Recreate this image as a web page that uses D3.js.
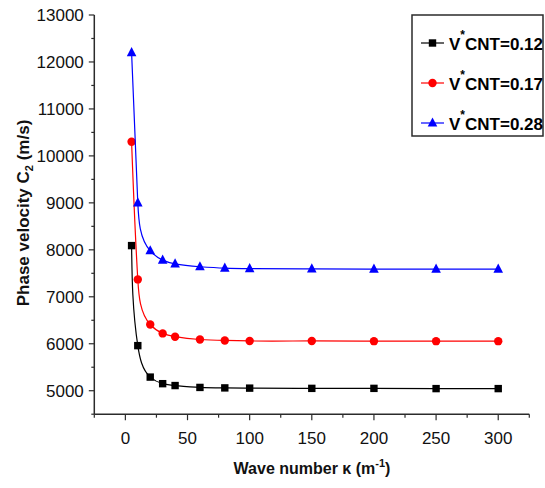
<!DOCTYPE html>
<html>
<head>
<meta charset="utf-8">
<script src="https://cdn.jsdelivr.net/npm/d3@7"></script>
<style>
  html, body { margin: 0; padding: 0; background: #fff; }
  svg { display: block; font-family: "Liberation Sans", Arial, sans-serif; }
</style>
</head>
<body>
<svg id="chart" width="545" height="488"></svg>
<script>
// Wave numbers (m^-1) sampled for each CNT volume fraction
const waveNumbers = [5, 10, 20, 30, 40, 60, 80, 100, 150, 200, 250, 300];

// Phase velocity C2 (m/s) for each V*CNT value
const velocity012 = [8090, 5960, 5290, 5150, 5110, 5070, 5060, 5055, 5050, 5050, 5045, 5045];
const velocity017 = [10300, 7370, 6410, 6220, 6150, 6090, 6070, 6060, 6060, 6055, 6055, 6055];
const velocity028 = [12200, 9000, 7980, 7780, 7700, 7640, 7610, 7600, 7595, 7590, 7590, 7590];

const seriesLabels = ["0.12", "0.17", "0.28"];
const seriesColors = ["#000000", "#ff0000", "#0000ff"];
const seriesShapes = ["square", "circle", "triangle"];

const xTickValues = [0, 50, 100, 150, 200, 250, 300];
const yTickValues = [5000, 6000, 7000, 8000, 9000, 10000, 11000, 12000, 13000];

const svg = d3.select("#chart");
const axisColor = "#2b2b2b";

const x = d3.scaleLinear().domain([-25, 325]).range([94.3, 529.3]);
const y = d3.scaleLinear().domain([4500, 13000]).range([414.2, 15]);

// Solve natural cubic spline derivatives of values v over knots t
function splineSlopes(t, v) {
  const n = t.length;
  const h = d3.range(n - 1).map(i => t[i + 1] - t[i]);
  const a = new Array(n).fill(0), b = new Array(n).fill(1), c = new Array(n).fill(0), r = new Array(n).fill(0);
  for (let i = 1; i < n - 1; i++) {
    a[i] = h[i - 1]; b[i] = 2 * (h[i - 1] + h[i]); c[i] = h[i];
    r[i] = 6 * ((v[i + 1] - v[i]) / h[i] - (v[i] - v[i - 1]) / h[i - 1]);
  }
  for (let i = 1; i < n; i++) {
    const m = a[i] / b[i - 1];
    b[i] -= m * c[i - 1]; r[i] -= m * r[i - 1];
  }
  const M = new Array(n).fill(0);
  M[n - 1] = r[n - 1] / b[n - 1];
  for (let i = n - 2; i >= 0; i--) M[i] = (r[i] - c[i] * M[i + 1]) / b[i];
  const d0 = [], d1 = [];
  for (let i = 0; i < n - 1; i++) {
    const s = (v[i + 1] - v[i]) / h[i];
    d0.push(s - h[i] * (2 * M[i] + M[i + 1]) / 6);
    d1.push(s + h[i] * (M[i] + 2 * M[i + 1]) / 6);
  }
  return { h, d0, d1 };
}

// Parametric natural spline through the points, chord-length knots
function curveChordSpline(context) {
  let xs, ys;
  return {
    areaStart() {}, areaEnd() {},
    lineStart() { xs = []; ys = []; },
    point(px, py) { xs.push(+px); ys.push(+py); },
    lineEnd() {
      const n = xs.length;
      if (!n) return;
      context.moveTo(xs[0], ys[0]);
      if (n < 3) { if (n === 2) context.lineTo(xs[1], ys[1]); return; }
      const t = [0];
      for (let i = 1; i < n; i++) t.push(t[i - 1] + Math.hypot(xs[i] - xs[i - 1], ys[i] - ys[i - 1]));
      const sx = splineSlopes(t, xs), sy = splineSlopes(t, ys);
      for (let i = 0; i < n - 1; i++) {
        const k = sx.h[i] / 3;
        context.bezierCurveTo(xs[i] + sx.d0[i] * k, ys[i] + sy.d0[i] * k,
                              xs[i + 1] - sx.d1[i] * k, ys[i + 1] - sy.d1[i] * k,
                              xs[i + 1], ys[i + 1]);
      }
    }
  };
}

// Axes: major ticks with labels, minor ticks between them
const xMinor = d3.range(-25, 326, 50);
const yMinor = d3.range(4500, 13000, 1000);

const gx = svg.append("g").attr("transform", `translate(0,${y(4500)})`);
gx.append("line").attr("x1", x(-25)).attr("x2", x(325))
  .attr("stroke", axisColor).attr("stroke-width", 1.5);
gx.selectAll("line.major").data(xTickValues).join("line").attr("class", "major")
  .attr("x1", d => x(d)).attr("x2", d => x(d)).attr("y1", 0).attr("y2", 6)
  .attr("stroke", axisColor).attr("stroke-width", 1.2);
gx.selectAll("line.minor").data(xMinor).join("line").attr("class", "minor")
  .attr("x1", d => x(d)).attr("x2", d => x(d)).attr("y1", 0).attr("y2", 3.5)
  .attr("stroke", axisColor).attr("stroke-width", 1.2);
gx.selectAll("text").data(xTickValues).join("text")
  .attr("x", d => x(d)).attr("y", 30).attr("text-anchor", "middle")
  .attr("font-size", 17).attr("fill", "#111").text(d => d);

const gy = svg.append("g").attr("transform", `translate(${x(-25)},0)`);
gy.append("line").attr("y1", y(4500)).attr("y2", y(13000))
  .attr("stroke", axisColor).attr("stroke-width", 1.5);
gy.selectAll("line.major").data(yTickValues).join("line").attr("class", "major")
  .attr("y1", d => y(d)).attr("y2", d => y(d)).attr("x1", 0).attr("x2", -5.5)
  .attr("stroke", axisColor).attr("stroke-width", 1.2);
gy.selectAll("line.minor").data(yMinor).join("line").attr("class", "minor")
  .attr("y1", d => y(d)).attr("y2", d => y(d)).attr("x1", 0).attr("x2", -3)
  .attr("stroke", axisColor).attr("stroke-width", 1.2);
gy.selectAll("text").data(yTickValues).join("text")
  .attr("x", -10.5).attr("y", d => y(d)).attr("dy", "0.35em").attr("text-anchor", "end")
  .attr("font-size", 17).attr("fill", "#111").text(d => d);

// Axis titles
const xTitle = svg.append("text").attr("x", 312).attr("y", 474).attr("text-anchor", "middle")
  .attr("font-size", 16).attr("font-weight", "bold").attr("fill", "#111");
xTitle.append("tspan").text("Wave number \u03ba (m");
xTitle.append("tspan").attr("font-size", 11).attr("dy", -7).text("-1");
xTitle.append("tspan").attr("dy", 7).text(")");

const yTitle = svg.append("text").attr("transform", "translate(29,213) rotate(-90)")
  .attr("text-anchor", "middle").attr("font-size", 17).attr("font-weight", "bold").attr("fill", "#111");
yTitle.append("tspan").text("Phase velocity C");
yTitle.append("tspan").attr("font-size", 11).attr("dy", 4).text("2");
yTitle.append("tspan").attr("dy", -4).text(" (m/s)");

// Series
const series = [velocity012, velocity017, velocity028].map((vals, i) => ({
  label: seriesLabels[i], color: seriesColors[i], shape: seriesShapes[i],
  points: waveNumbers.map((k, j) => ({ k, v: vals[j] }))
}));

const line = d3.line().x(d => x(d.k)).y(d => y(d.v)).curve(curveChordSpline);

function drawMarker(g, shape, color, cx, cy) {
  if (shape === "square") {
    g.append("rect").attr("x", cx - 3.7).attr("y", cy - 3.7).attr("width", 7.4).attr("height", 7.4).attr("fill", color);
  } else if (shape === "circle") {
    g.append("circle").attr("cx", cx).attr("cy", cy).attr("r", 4.2).attr("fill", color);
  } else {
    g.append("path").attr("d", `M${cx},${cy - 5.6}L${cx + 4.8},${cy + 3.6}L${cx - 4.8},${cy + 3.6}Z`).attr("fill", color);
  }
}

series.forEach(s => {
  const g = svg.append("g");
  g.append("path").datum(s.points).attr("d", line)
    .attr("fill", "none").attr("stroke", s.color).attr("stroke-width", 1.2);
  s.points.forEach(p => drawMarker(g, s.shape, s.color, x(p.k), y(p.v)));
});

// Legend
const legend = svg.append("g");
legend.append("rect").attr("x", 412).attr("y", 15).attr("width", 131).attr("height", 121)
  .attr("fill", "#fff").attr("stroke", axisColor).attr("stroke-width", 1.5);
series.forEach((s, i) => {
  const cy = 43 + i * 40;
  legend.append("line").attr("x1", 421).attr("x2", 444).attr("y1", cy).attr("y2", cy)
    .attr("stroke", s.color).attr("stroke-width", 1.2);
  drawMarker(legend, s.shape, s.color, 432.5, cy);
  const t = legend.append("text").attr("x", 449).attr("y", cy + 6.5)
    .attr("font-size", 17).attr("font-weight", "bold").attr("fill", "#000");
  t.append("tspan").text("V");
  t.append("tspan").attr("font-size", 12).attr("dy", -11).text("*");
  t.append("tspan").attr("dy", 11).text("CNT=" + s.label);
});
</script>
</body>
</html>
